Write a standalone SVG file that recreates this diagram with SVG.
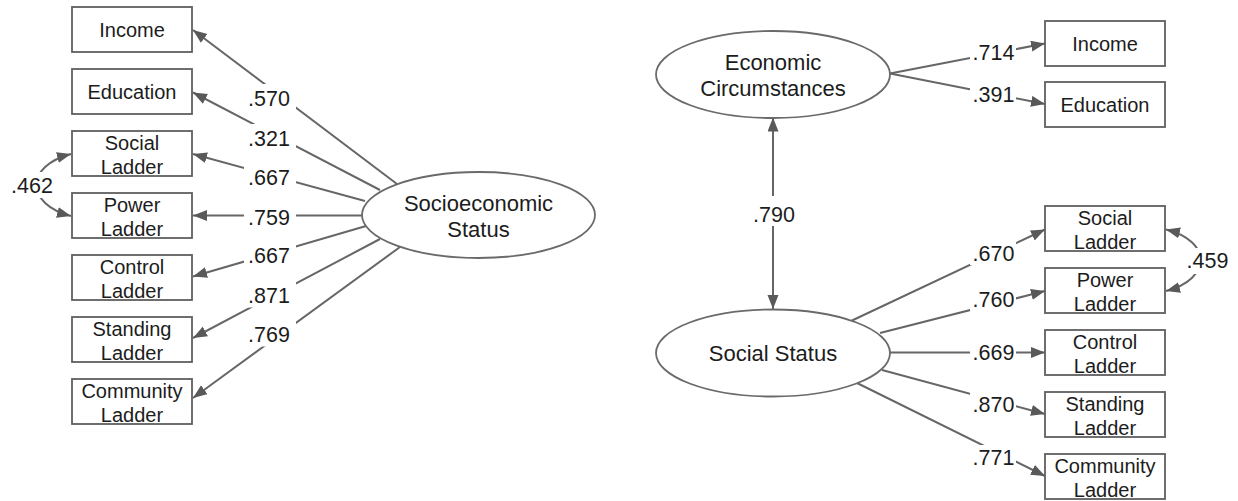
<svg xmlns="http://www.w3.org/2000/svg" width="1238" height="501" viewBox="0 0 1238 501">
<style>
.box{fill:#fff;stroke:#5f5f5f;stroke-width:1.8}
.ell{fill:#fff;stroke:#6a6a6a;stroke-width:1.8}
.bt{font-family:"Liberation Sans",Arial,sans-serif;font-size:20px;fill:#1c1c1c;text-anchor:middle}
.et{font-family:"Liberation Sans",Arial,sans-serif;font-size:22px;fill:#1c1c1c;text-anchor:middle}
.lt{font-family:"Liberation Sans",Arial,sans-serif;font-size:21.5px;fill:#1c1c1c;text-anchor:middle}
.ln{stroke:#666;stroke-width:2;fill:none;marker-end:url(#ah)}
.dl{stroke:#666;stroke-width:2;fill:none;marker-end:url(#ah);marker-start:url(#ah)}
.bg{fill:#fff}
</style>
<defs>
<marker id="ah" markerUnits="userSpaceOnUse" markerWidth="16" markerHeight="12" refX="14" refY="5.5" orient="auto-start-reverse">
<path d="M0,0 L14,5.5 L0,11 z" fill="#595959"/>
</marker>
</defs>
<rect width="1238" height="501" fill="#fff"/>

<g id="connectors">
<line class="ln" x1="397" y1="184" x2="193" y2="30"/>
<line class="ln" x1="380" y1="190" x2="193" y2="92.5"/>
<line class="ln" x1="365" y1="201" x2="193" y2="154"/>
<line class="ln" x1="362" y1="215.5" x2="193" y2="215.5"/>
<line class="ln" x1="366" y1="226" x2="193" y2="276.5"/>
<line class="ln" x1="380" y1="239" x2="193" y2="338"/>
<line class="ln" x1="400" y1="247" x2="193" y2="398"/>
<path class="dl" d="M71,154 C25,166 25,204 71,216"/>

<line class="ln" x1="890" y1="73.5" x2="1045" y2="43.5"/>
<line class="ln" x1="890" y1="73.5" x2="1045" y2="104"/>
<line class="ln" x1="851" y1="321" x2="1045" y2="229.5"/>
<line class="ln" x1="880" y1="333" x2="1045" y2="291"/>
<line class="ln" x1="890" y1="352.5" x2="1045" y2="352.5"/>
<line class="ln" x1="882" y1="370" x2="1045" y2="414"/>
<line class="ln" x1="857" y1="383" x2="1045" y2="476"/>
<path class="dl" d="M1166,229.5 C1212,241 1212,279 1166,291"/>
<line class="dl" x1="773" y1="117.5" x2="773" y2="309"/>

<g id="labels">
<rect class="bg" x="244" y="84" width="52" height="27"/><text class="lt" x="269" y="106">.570</text>
<rect class="bg" x="244" y="124" width="52" height="27"/><text class="lt" x="269" y="146">.321</text>
<rect class="bg" x="244" y="163" width="52" height="27"/><text class="lt" x="269" y="185">.667</text>
<rect class="bg" x="244" y="202.5" width="52" height="27"/><text class="lt" x="269" y="224.5">.759</text>
<rect class="bg" x="244" y="241" width="52" height="27"/><text class="lt" x="269" y="263">.667</text>
<rect class="bg" x="244" y="280.5" width="52" height="27"/><text class="lt" x="269" y="302.5">.871</text>
<rect class="bg" x="244" y="319.5" width="52" height="27"/><text class="lt" x="269" y="341.5">.769</text>
<rect class="bg" x="10" y="172" width="46" height="26"/><text class="lt" x="32" y="193">.462</text>

<rect class="bg" x="970" y="41" width="46" height="24"/><text class="lt" x="993.5" y="60">.714</text>
<rect class="bg" x="970" y="82" width="46" height="24"/><text class="lt" x="993.5" y="101.5">.391</text>
<rect class="bg" x="970" y="241" width="46" height="24"/><text class="lt" x="993.5" y="260.5">.670</text>
<rect class="bg" x="970" y="287" width="46" height="24"/><text class="lt" x="993.5" y="306.5">.760</text>
<rect class="bg" x="970" y="340.5" width="46" height="24"/><text class="lt" x="993.5" y="360">.669</text>
<rect class="bg" x="970" y="392" width="46" height="24"/><text class="lt" x="993.5" y="411.5">.870</text>
<rect class="bg" x="970" y="445" width="46" height="24"/><text class="lt" x="993.5" y="464.5">.771</text>
<rect class="bg" x="1184" y="248" width="48" height="26"/><text class="lt" x="1207.5" y="268">.459</text>
<rect class="bg" x="750" y="196" width="48" height="30"/><text class="lt" x="774" y="222">.790</text>
</g>
</g>

<g id="ses">
<ellipse class="ell" cx="478.5" cy="215" rx="116.5" ry="43"/>
<text class="et" x="478.5" y="210.7">Socioeconomic</text>
<text class="et" x="478.5" y="236.5">Status</text>
</g>
<g id="l_income"><rect class="box" x="72" y="7" width="120" height="45"/><text class="bt" x="132" y="36.7">Income</text></g>
<g id="l_education"><rect class="box" x="72" y="69" width="120" height="45"/><text class="bt" x="132" y="98.7">Education</text></g>
<g id="l_social"><rect class="box" x="72" y="131" width="120" height="45"/><text class="bt" x="132" y="150">Social</text><text class="bt" x="132" y="173.5">Ladder</text></g>
<g id="l_power"><rect class="box" x="72" y="193" width="120" height="45"/><text class="bt" x="132" y="212">Power</text><text class="bt" x="132" y="235.5">Ladder</text></g>
<g id="l_control"><rect class="box" x="72" y="255" width="120" height="45"/><text class="bt" x="132" y="274">Control</text><text class="bt" x="132" y="297.5">Ladder</text></g>
<g id="l_standing"><rect class="box" x="72" y="317" width="120" height="45"/><text class="bt" x="132" y="336">Standing</text><text class="bt" x="132" y="359.5">Ladder</text></g>
<g id="l_community"><rect class="box" x="72" y="379" width="120" height="45"/><text class="bt" x="132" y="398">Community</text><text class="bt" x="132" y="421.5">Ladder</text></g>

<g id="econ">
<ellipse class="ell" cx="773" cy="74.5" rx="117" ry="43.5"/>
<text class="et" x="773" y="70">Economic</text>
<text class="et" x="773" y="95.5">Circumstances</text>
</g>
<g id="social_status">
<ellipse class="ell" cx="773" cy="353" rx="117" ry="43.5"/>
<text class="et" x="773" y="360.7">Social Status</text>
</g>
<g id="r_income"><rect class="box" x="1045" y="21" width="120" height="45"/><text class="bt" x="1105" y="50.5">Income</text></g>
<g id="r_education"><rect class="box" x="1045" y="82" width="120" height="45"/><text class="bt" x="1105" y="111.5">Education</text></g>
<g id="r_social"><rect class="box" x="1045" y="206" width="120" height="45"/><text class="bt" x="1105" y="225">Social</text><text class="bt" x="1105" y="248.5">Ladder</text></g>
<g id="r_power"><rect class="box" x="1045" y="268" width="120" height="45"/><text class="bt" x="1105" y="287">Power</text><text class="bt" x="1105" y="310.5">Ladder</text></g>
<g id="r_control"><rect class="box" x="1045" y="330" width="120" height="45"/><text class="bt" x="1105" y="349">Control</text><text class="bt" x="1105" y="372.5">Ladder</text></g>
<g id="r_standing"><rect class="box" x="1045" y="392" width="120" height="45"/><text class="bt" x="1105" y="411">Standing</text><text class="bt" x="1105" y="434.5">Ladder</text></g>
<g id="r_community"><rect class="box" x="1045" y="454" width="120" height="45"/><text class="bt" x="1105" y="473">Community</text><text class="bt" x="1105" y="496.5">Ladder</text></g>
</svg>
